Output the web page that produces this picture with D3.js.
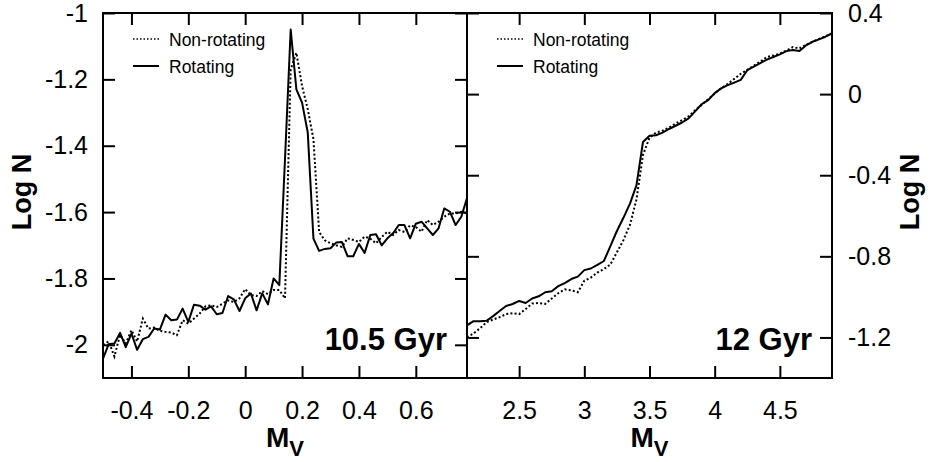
<!DOCTYPE html>
<html>
<head>
<meta charset="utf-8">
<script src="https://cdn.jsdelivr.net/npm/d3@7"></script>
<style>
  body { margin: 0; background: #fff; }
  svg { display: block; font-family: "Liberation Sans", Arial, Helvetica, sans-serif; }
</style>
</head>
<body>
<svg id="chart"></svg>
<script>
// Luminosity function data (Log N vs M_V)
const seriesNames = ['Non-rotating', 'Rotating'];
const ageLabels = ['10.5 Gyr', '12 Gyr'];

// left panel: 10.5 Gyr
const leftX = [-0.5, -0.48, -0.46, -0.44, -0.42, -0.4, -0.38, -0.36, -0.34, -0.32,
  -0.3, -0.28, -0.26, -0.24, -0.22, -0.2, -0.18, -0.16, -0.14, -0.12,
  -0.1, -0.08, -0.06, -0.04, -0.02, 0, 0.02, 0.04, 0.06, 0.08,
  0.1, 0.12, 0.14, 0.16, 0.18, 0.2, 0.22, 0.24, 0.26, 0.28,
  0.3, 0.32, 0.34, 0.36, 0.38, 0.4, 0.42, 0.44, 0.46, 0.48,
  0.5, 0.52, 0.54, 0.56, 0.58, 0.6, 0.62, 0.64, 0.66, 0.68,
  0.7, 0.72, 0.74, 0.76, 0.78];
const leftNonRot = [-2.0, -1.99, -2.035, -1.97, -1.996, -1.956, -1.99, -1.921, -1.951, -1.948,
  -1.958, -1.961, -1.963, -1.971, -1.926, -1.936, -1.921, -1.906, -1.884, -1.881,
  -1.886, -1.876, -1.866, -1.871, -1.86, -1.832, -1.85, -1.853, -1.838, -1.847,
  -1.835, -1.835, -1.86, -1.17, -1.12, -1.22, -1.29, -1.38, -1.66, -1.685,
  -1.694, -1.70, -1.705, -1.679, -1.684, -1.69, -1.674, -1.68, -1.694, -1.675,
  -1.659, -1.669, -1.654, -1.66, -1.64, -1.645, -1.659, -1.624, -1.639, -1.629,
  -1.614, -1.604, -1.604, -1.599, -1.604];
const leftRot = [-2.042, -1.998, -1.996, -1.964, -2.007, -1.966, -2.015, -1.983, -1.976, -1.951,
  -1.954, -1.909, -1.926, -1.924, -1.891, -1.931, -1.879, -1.882, -1.894, -1.884,
  -1.908, -1.904, -1.853, -1.863, -1.898, -1.86, -1.845, -1.896, -1.845, -1.878,
  -1.80, -1.82, -1.44, -1.05, -1.23, -1.27, -1.36, -1.68, -1.717, -1.711,
  -1.709, -1.692, -1.69, -1.733, -1.733, -1.696, -1.723, -1.669, -1.667, -1.70,
  -1.679, -1.664, -1.639, -1.639, -1.679, -1.635, -1.629, -1.649, -1.669, -1.649,
  -1.589, -1.599, -1.639, -1.614, -1.558];

// right panel: 12 Gyr
const rightX = [2.1, 2.15, 2.2, 2.25, 2.3, 2.35, 2.4, 2.45, 2.5, 2.55,
  2.6, 2.65, 2.7, 2.75, 2.8, 2.85, 2.9, 2.95, 3.0, 3.05,
  3.1, 3.15, 3.2, 3.25, 3.3, 3.35, 3.4, 3.45, 3.5, 3.55,
  3.6, 3.65, 3.7, 3.75, 3.8, 3.85, 3.9, 3.95, 4.0, 4.05,
  4.1, 4.15, 4.2, 4.25, 4.3, 4.35, 4.4, 4.45, 4.5, 4.55,
  4.6, 4.65, 4.7, 4.75, 4.8, 4.85, 4.9];
const rightNonRot = [-1.2, -1.18, -1.155, -1.125, -1.112, -1.10, -1.085, -1.08, -1.085, -1.06,
  -1.033, -1.03, -1.035, -1.008, -0.982, -0.963, -0.968, -0.977, -0.92, -0.905,
  -0.88, -0.863, -0.84, -0.78, -0.72, -0.645, -0.52, -0.30, -0.215, -0.19,
  -0.18, -0.165, -0.145, -0.128, -0.11, -0.08, -0.052, -0.025, 0.002, 0.03,
  0.05, 0.075, 0.1, 0.12, 0.14, 0.16, 0.183, 0.19, 0.2, 0.215,
  0.232, 0.225, 0.243, 0.258, 0.272, 0.285, 0.30];
const rightRot = [-1.14, -1.12, -1.12, -1.118, -1.095, -1.07, -1.045, -1.035, -1.02, -1.03,
  -1.008, -0.997, -0.977, -0.972, -0.947, -0.932, -0.912, -0.90, -0.868, -0.86,
  -0.842, -0.823, -0.75, -0.675, -0.61, -0.54, -0.45, -0.236, -0.205, -0.203,
  -0.19, -0.172, -0.156, -0.14, -0.12, -0.085, -0.05, -0.03, 0.005, 0.028,
  0.044, 0.057, 0.07, 0.118, 0.136, 0.153, 0.17, 0.183, 0.196, 0.212,
  0.217, 0.213, 0.24, 0.258, 0.27, 0.283, 0.30];

// tick values
const leftXTicks = [-0.4, -0.2, 0, 0.2, 0.4, 0.6];
const leftYTicks = [-2, -1.8, -1.6, -1.4, -1.2, -1];
const rightXTicks = [2.5, 3, 3.5, 4, 4.5];
const rightYTicks = [-1.2, -0.8, -0.4, 0, 0.4];

const width = 930;
const height = 462;
const plotTop = 13, plotBottom = 378;
const tickLen = 12;
const fontFamily = '"Liberation Sans", Arial, Helvetica, sans-serif';

const svg = d3.select('#chart')
    .attr('width', width)
    .attr('height', height);

svg.append('rect')
    .attr('width', width)
    .attr('height', height)
    .attr('fill', '#fff');

const panels = [
    {
        x0: 103, x1: 467, xDomain: [-0.5, 0.78], yDomain: [-2.1, -1],
        xs: leftX, nonRot: leftNonRot, rot: leftRot,
        xTicks: leftXTicks, yTicks: leftYTicks, ySide: 'left',
        legendX: 133, age: ageLabels[0]
    },
    {
        x0: 467, x1: 832, xDomain: [2.1, 4.9], yDomain: [-1.4, 0.4],
        xs: rightX, nonRot: rightNonRot, rot: rightRot,
        xTicks: rightXTicks, yTicks: rightYTicks, ySide: 'right',
        legendX: 497, age: ageLabels[1]
    }
];

const fmt = d => String(d);

panels.forEach((p, i) => {
    const x = d3.scaleLinear().domain(p.xDomain).range([p.x0, p.x1]);
    const y = d3.scaleLinear().domain(p.yDomain).range([plotBottom, plotTop]);

    // clip for data lines
    svg.append('clipPath')
        .attr('id', 'clip' + i)
        .append('rect')
        .attr('x', p.x0)
        .attr('y', plotTop)
        .attr('width', p.x1 - p.x0)
        .attr('height', plotBottom - plotTop);

    const line = d3.line()
        .x(d => x(d[0]))
        .y(d => y(d[1]));

    const g = svg.append('g').attr('clip-path', `url(#clip${i})`);

    g.append('path')
        .datum(p.xs.map((v, j) => [v, p.nonRot[j]]))
        .attr('d', line)
        .attr('fill', 'none')
        .attr('stroke', '#000')
        .attr('stroke-width', 2)
        .attr('stroke-dasharray', '2,2.2');

    g.append('path')
        .datum(p.xs.map((v, j) => [v, p.rot[j]]))
        .attr('d', line)
        .attr('fill', 'none')
        .attr('stroke', '#000')
        .attr('stroke-width', 2)
        .attr('stroke-linejoin', 'round');

    // axes with inward ticks on all four sides
    const styleAxis = sel => {
        sel.attr('font-size', 25).attr('font-family', fontFamily);
        sel.select('.domain').remove();
        sel.selectAll('.tick line').attr('stroke', '#000').attr('stroke-width', 2);
        sel.selectAll('.tick text').attr('fill', '#000');
    };

    svg.append('g')
        .attr('transform', `translate(0,${plotBottom})`)
        .call(d3.axisBottom(x).tickValues(p.xTicks).tickSize(-tickLen).tickPadding(23).tickFormat(fmt))
        .call(styleAxis);

    svg.append('g')
        .attr('transform', `translate(0,${plotTop})`)
        .call(d3.axisTop(x).tickValues(p.xTicks).tickSize(-tickLen).tickFormat(''))
        .call(styleAxis);

    svg.append('g')
        .attr('transform', `translate(${p.x0},0)`)
        .call(d3.axisLeft(y).tickValues(p.yTicks).tickSize(-tickLen).tickPadding(15)
            .tickFormat(p.ySide === 'left' ? fmt : ''))
        .call(styleAxis);

    svg.append('g')
        .attr('transform', `translate(${p.x1},0)`)
        .call(d3.axisRight(y).tickValues(p.yTicks).tickSize(-tickLen).tickPadding(16)
            .tickFormat(p.ySide === 'right' ? fmt : ''))
        .call(styleAxis);

    // frame
    svg.append('rect')
        .attr('x', p.x0)
        .attr('y', plotTop)
        .attr('width', p.x1 - p.x0)
        .attr('height', plotBottom - plotTop)
        .attr('fill', 'none')
        .attr('stroke', '#000')
        .attr('stroke-width', 2);

    // legend
    const legend = svg.append('g');
    const lx = p.legendX;
    [39, 66].forEach((ly, k) => {
        legend.append('line')
            .attr('x1', lx).attr('x2', lx + 26)
            .attr('y1', ly).attr('y2', ly)
            .attr('stroke', '#000')
            .attr('stroke-width', k === 0 ? 1.5 : 2)
            .attr('stroke-dasharray', k === 0 ? '1.5,2' : null);
        legend.append('text')
            .attr('x', lx + 36)
            .attr('y', ly + 7)
            .attr('font-size', 17.5)
            .text(seriesNames[k]);
    });

    // age label
    svg.append('text')
        .attr('x', p.x1 - 20)
        .attr('y', 350)
        .attr('text-anchor', 'end')
        .attr('font-size', 31)
        .attr('font-weight', 'bold')
        .text(p.age);

    // x title: M_V
    const xt = svg.append('text')
        .attr('x', (p.x0 + p.x1) / 2)
        .attr('y', 447)
        .attr('text-anchor', 'middle')
        .attr('font-size', 28)
        .attr('font-weight', 'bold');
    xt.append('tspan').text('M');
    xt.append('tspan').attr('font-size', 22).attr('dy', 9).text('V');
});

// y titles
[31, 919].forEach(tx => {
    svg.append('text')
        .attr('transform', `translate(${tx},192) rotate(-90)`)
        .attr('text-anchor', 'middle')
        .attr('font-size', 27)
        .attr('font-weight', 'bold')
        .text('Log N');
});
</script>
</body>
</html>
